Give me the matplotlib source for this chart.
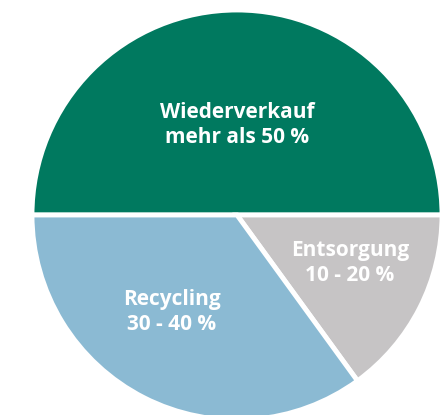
import matplotlib
matplotlib.use("Agg")
import matplotlib.pyplot as plt

# shares of the slices
labels = ["Wiederverkauf\nmehr als 50 %", "Entsorgung\n10 - 20 %", "Recycling\n30 - 40 %"]
shares = [50, 15, 35]
colors = ["#00795f", "#c6c4c5", "#8bbad3"]

# label placement (x, y in pixels, top-left origin)
label_pos = [(237, 125), (350, 263), (172, 312)]

W, H = 442, 415
fig = plt.figure(figsize=(W / 100, H / 100), dpi=100)
ax = fig.add_axes([0, 0, 1, 1])

cx, cy, r = 237, H - 215, 205
ax.pie(shares, colors=colors, startangle=180, counterclock=False,
       center=(cx, cy), radius=r,
       wedgeprops=dict(edgecolor="white", linewidth=3.5))

for lab, (x, y) in zip(labels, label_pos):
    ax.text(x, H - y, lab, ha="center", va="center", color="white",
            fontsize=15, fontweight="bold", family="Open Sans",
            linespacing=1.2)

ax.set_xlim(0, W)
ax.set_ylim(0, H)
ax.set_aspect("equal")
ax.axis("off")
fig.savefig("out.png", dpi=100)
